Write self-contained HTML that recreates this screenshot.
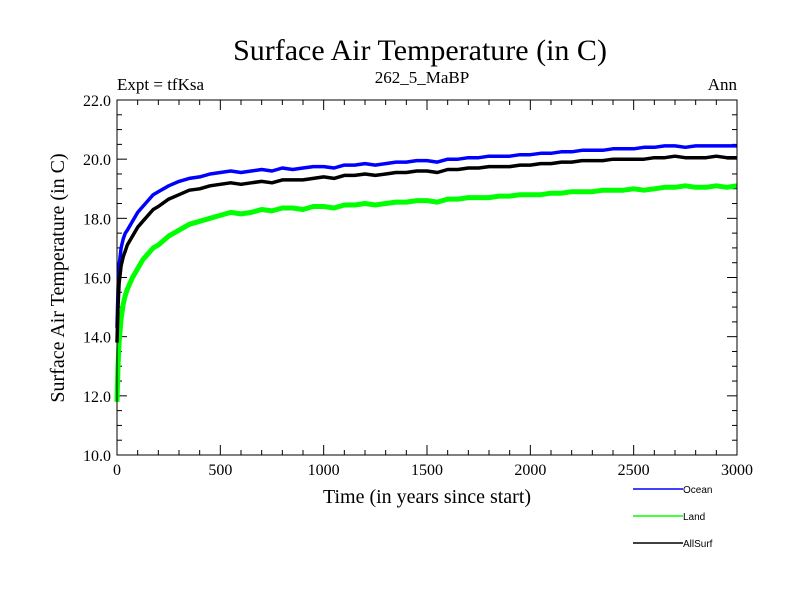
<!DOCTYPE html>
<html><head><meta charset="utf-8"><style>
body{margin:0;background:#fff}
svg text{font-family:"Liberation Serif",serif}
</style></head><body>
<svg id="chart" width="800" height="600" xmlns="http://www.w3.org/2000/svg">
<rect width="800" height="600" fill="#fff"/>
<text x="420" y="60" font-size="30" text-anchor="middle">Surface Air Temperature (in C)</text>
<text x="117" y="90" font-size="17">Expt = tfKsa</text>
<text x="422" y="83" font-size="17" text-anchor="middle">262_5_MaBP</text>
<text x="737" y="90" font-size="17" text-anchor="end">Ann</text>
<text x="427" y="503" font-size="20" text-anchor="middle">Time (in years since start)</text>
<text transform="translate(64,278) rotate(-90)" font-size="20" text-anchor="middle">Surface Air Temperature (in C)</text>
<g id="ticks"></g>
<g id="series"></g>
<rect x="117" y="100" width="620" height="355" fill="none" stroke="#000" stroke-width="1"/>
<g id="legend"></g>
</svg>
<script>
const years=[0,5,10,20,30,40,50,75,100,125,150,175,200,250,300,350,400,450,500,550,600,650,700,750,800,850,900,950,1000,1050,1100,1150,1200,1250,1300,1350,1400,1450,1500,1550,1600,1650,1700,1750,1800,1850,1900,1950,2000,2050,2100,2150,2200,2250,2300,2350,2400,2450,2500,2550,2600,2650,2700,2750,2800,2850,2900,2950,3000];
const ocean=[14.3,15.6,16.4,17.0,17.3,17.5,17.6,17.9,18.2,18.4,18.6,18.8,18.9,19.1,19.25,19.35,19.4,19.5,19.55,19.6,19.55,19.6,19.65,19.6,19.7,19.65,19.7,19.75,19.75,19.7,19.8,19.8,19.85,19.8,19.85,19.9,19.9,19.95,19.95,19.9,20.0,20.0,20.05,20.05,20.1,20.1,20.1,20.15,20.15,20.2,20.2,20.25,20.25,20.3,20.3,20.3,20.35,20.35,20.35,20.4,20.4,20.45,20.45,20.4,20.45,20.45,20.45,20.45,20.45];
const land=[11.8,13.0,13.8,14.6,15.1,15.4,15.6,16.0,16.3,16.6,16.8,17.0,17.1,17.4,17.6,17.8,17.9,18.0,18.1,18.2,18.15,18.2,18.3,18.25,18.35,18.35,18.3,18.4,18.4,18.35,18.45,18.45,18.5,18.45,18.5,18.55,18.55,18.6,18.6,18.55,18.65,18.65,18.7,18.7,18.7,18.75,18.75,18.8,18.8,18.8,18.85,18.85,18.9,18.9,18.9,18.95,18.95,18.95,19.0,18.95,19.0,19.05,19.05,19.1,19.05,19.05,19.1,19.05,19.1];
const allsurf=[13.8,15.0,15.8,16.4,16.7,16.9,17.1,17.4,17.7,17.9,18.1,18.3,18.4,18.65,18.8,18.95,19.0,19.1,19.15,19.2,19.15,19.2,19.25,19.2,19.3,19.3,19.3,19.35,19.4,19.35,19.45,19.45,19.5,19.45,19.5,19.55,19.55,19.6,19.6,19.55,19.65,19.65,19.7,19.7,19.75,19.75,19.75,19.8,19.8,19.85,19.85,19.9,19.9,19.95,19.95,19.95,20.0,20.0,20.0,20.0,20.05,20.05,20.1,20.05,20.05,20.05,20.1,20.05,20.05];
const xTickLabels=[0,500,1000,1500,2000,2500,3000];
const yTickLabels=[10,12,14,16,18,20,22];
const seriesNames=["Ocean","Land","AllSurf"];
const seriesColors=["#0000ff","#00ff00","#000000"];

const NS="http://www.w3.org/2000/svg";
const X0=117,X1=737,Y0=455,Y1=100;
const xs=v=>X0+(v-0)/(3000-0)*(X1-X0);
const ys=v=>Y0-(v-10)/(22-10)*(Y0-Y1);
function mk(t,a,p){const e=document.createElementNS(NS,t);for(const k in a)e.setAttribute(k,a[k]);p.appendChild(e);return e;}
const tg=document.getElementById('ticks');
for(let v=0;v<=3000;v+=100){const maj=v%500===0;const x=xs(v);
 const l=mk('line',{x1:x,x2:x,y1:Y0,y2:Y0-(maj?10:5),stroke:'#000'},tg);
 
 
 const l2=mk('line',{x1:x,x2:x,y1:Y1,y2:Y1+(maj?10:5),stroke:'#000'},tg);
 
 }
for(let v=10;v<=22.001;v+=0.5){const maj=Math.abs(v%2)<1e-6;const y=ys(v);
 const l=mk('line',{x1:X0,x2:X0+(maj?10:5),y1:y,y2:y,stroke:'#000'},tg);
 
 
 const l2=mk('line',{x1:X1,x2:X1-(maj?10:5),y1:y,y2:y,stroke:'#000'},tg);
 
 }
xTickLabels.forEach(v=>{const t=mk('text',{x:xs(v),y:Y0+20,'font-size':16,'text-anchor':'middle'},tg);t.textContent=v;
 
 });
yTickLabels.forEach(v=>{const t=mk('text',{x:X0-6,y:ys(v)+6,'font-size':16,'text-anchor':'end'},tg);t.textContent=v.toFixed(1);
 
 });
const sg=document.getElementById('series');
const data=[ocean,land,allsurf];const widths=[3.5,5,3.5];
[1,0,2].forEach(i=>{const d=data[i].map((v,j)=>(j?'L':'M')+xs(years[j]).toFixed(1)+','+ys(v).toFixed(1)).join('');
 const p=mk('path',{d:d,fill:'none',stroke:seriesColors[i],'stroke-width':widths[i],'stroke-linejoin':'round'},sg);
 
 });
const lg=document.getElementById('legend');
seriesNames.forEach((n,i)=>{const y=489+i*27;
 const l=mk('line',{x1:633,x2:683,y1:y,y2:y,stroke:seriesColors[i],'stroke-width':1.5},lg);
 
 
 const t=mk('text',{x:683,y:y+4,'font-size':10,style:'font-family:"Liberation Sans",sans-serif'},lg);t.textContent=n;
 
 });
</script>
</body></html>
